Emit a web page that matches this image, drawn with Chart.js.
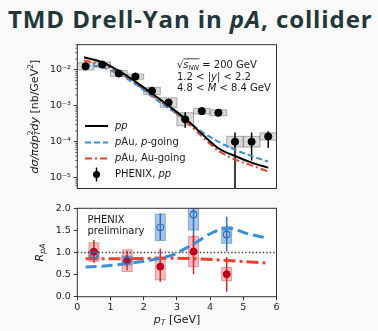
<!DOCTYPE html>
<html>
<head>
<meta charset="utf-8">
<script src="https://cdn.jsdelivr.net/npm/chart.js@4.4.1/dist/chart.umd.min.js"></script>
<style>
  body { margin: 0; background: #fafafa; width: 378px; height: 331px; overflow: hidden; position: relative; }
  #titulo { position: absolute; left: 8px; top: 2px; font: bold 24px "Open Sans"; color: #23373b; white-space: nowrap; letter-spacing: 0.9px; }
  canvas { position: absolute; left: 0; }
</style>
</head>
<body>
<div id="titulo">TMD Drell-Yan in <i>pA</i>, collider</div>
<canvas id="graficoSeccion" width="378" height="200" style="top:0"></canvas>
<canvas id="graficoRazon" width="378" height="136" style="top:195px"></canvas>
<script>
// ---- seccion eficaz pp (PHENIX) ----
const ptPP = [0.25, 0.75, 1.25, 1.75, 2.25, 2.75, 3.25, 3.75, 4.25, 4.75, 5.25, 5.75];
const seccionPP = [1.25e-2, 1.4e-2, 7.9e-3, 6.5e-3, 2.6e-3, 1.23e-3, 4.2e-4, 7.1e-4, 6.4e-4, 1.0e-4, 1.0e-4, 1.4e-4];
const estadPPBajo = [1.18e-2, 1.33e-2, 7.4e-3, 6.0e-3, 2.35e-3, 1.05e-3, 2.45e-4, 6.0e-4, 5.4e-4, 1e-6, 3.0e-5, 6.8e-5];
const estadPPAlto = [1.32e-2, 1.47e-2, 8.4e-3, 7.0e-3, 2.85e-3, 1.42e-3, 6.6e-4, 8.3e-4, 7.5e-4, 1.8e-4, 1.8e-4, 1.97e-4];
const sistPPBajo = [9.9e-3, 1.19e-2, 6.6e-3, 5.5e-3, 2.07e-3, 9.1e-4, 2.8e-4, 5.9e-4, 5.3e-4, 7.1e-5, 7.1e-5, 1.11e-4];
const sistPPAlto = [1.57e-2, 1.65e-2, 9.5e-3, 7.6e-3, 3.27e-3, 1.66e-3, 6.4e-4, 8.5e-4, 7.7e-4, 1.41e-4, 1.41e-4, 1.76e-4];

// ---- curvas teoricas (seccion eficaz) ----
const ptTeoria = [0.2, 0.75, 1.25, 1.75, 2.25, 2.75, 3.25, 3.75, 4.25, 4.75, 5.25, 5.75];
const teoriaPP = [2.24e-2, 1.62e-2, 9.3e-3, 4.7e-3, 2.19e-3, 1.0e-3, 4.4e-4, 1.66e-4, 6.6e-5, 4.0e-5, 2.63e-5, 1.9e-5];
const teoriaPAuP = [1.41e-2, 1.17e-2, 7.6e-3, 3.98e-3, 1.82e-3, 8.5e-4, 4.2e-4, 1.9e-4, 1.0e-4, 6.0e-5, 4.0e-5, 2.8e-5];
const teoriaPAuAu = [1.82e-2, 1.38e-2, 8.3e-3, 4.2e-3, 1.95e-3, 8.9e-4, 3.8e-4, 1.41e-4, 5.6e-5, 3.2e-5, 2.2e-5, 1.48e-5];

// ---- R_pA ----
const ptRazon = [0.5, 1.5, 2.5, 3.5, 4.5];
const razonP = [0.94, 0.82, 1.57, 1.86, 1.41];
const estadPBajo = [0.82, 0.70, 1.28, 1.09, 1.02];
const estadPAlto = [1.06, 0.94, 1.89, 2.30, 1.81];
const sistPBajo = [0.86, 0.72, 1.27, 1.51, 1.21];
const sistPAlto = [1.02, 0.92, 1.87, 2.21, 1.58];
const razonAu = [1.02, 0.82, 0.68, 1.02, 0.51];
const estadAuBajo = [0.77, 0.60, 0.34, 0.51, 0.11];
const estadAuAlto = [1.28, 1.04, 1.09, 1.40, 0.90];
const sistAuBajo = [0.80, 0.57, 0.38, 0.68, 0.36];
const sistAuAlto = [1.22, 1.06, 0.90, 1.36, 0.66];

const ptTeoriaP = [0.25, 0.75, 1.5, 2.0, 2.5, 2.9, 3.1, 3.5, 4.1, 4.6, 5.1, 5.75];
const razonTeoriaP = [0.67, 0.69, 0.75, 0.80, 0.87, 0.95, 1.03, 1.19, 1.46, 1.55, 1.43, 1.32];
const ptTeoriaAu = [0.25, 1.5, 2.5, 3.5, 4.5, 5.75];
const razonTeoriaAu = [0.86, 0.86, 0.87, 0.86, 0.82, 0.76];
const ptUnidad = [0, 6];
const razonUnidad = [1, 1];

const decadas = [1e-5, 1e-4, 1e-3, 1e-2];
const etiquetasDecadas = ["10⁻⁵", "10⁻⁴", "10⁻³", "10⁻²"];

const AZUL = "#3d8fd1";
const ROJO = "#ec412d";
const IZQ = 77.3, DER = 378 - 276.5;

Chart.defaults.font.family = '"DejaVu Sans"';
Chart.defaults.font.size = 9.5;
Chart.defaults.color = "#222";

function puntos(xs, ys) {
    return xs.map((x, i) => ({ x: x, y: ys[i] }));
}

// texto con cursiva, subindices y superindices
function fuente(p, tam) {
    const t = (p.sub || p.sup) ? tam * 0.7 : tam;
    return (p.i ? "italic " : "") + t + 'px "DejaVu Sans"';
}

function dibujarRico(ctx, partes, x, y, tam, alinear) {
    let ancho = 0;
    partes.forEach(p => {
        ctx.font = fuente(p, tam);
        if (!p.junto) ancho += ctx.measureText(p.t).width;
    });
    let cx = alinear === "center" ? x - ancho / 2 : (alinear === "right" ? x - ancho : x);
    ctx.textAlign = "left";
    ctx.textBaseline = "middle";
    ctx.fillStyle = "#1a1a1a";
    partes.forEach(p => {
        ctx.font = fuente(p, tam);
        const dy = p.sub ? tam * 0.3 : (p.sup ? -tam * 0.38 : 0);
        const w = ctx.measureText(p.t).width;
        ctx.fillText(p.t, cx, y + dy);
        if (p.raya) {
            ctx.strokeStyle = "#1a1a1a";
            ctx.lineWidth = 0.8;
            ctx.beginPath();
            ctx.moveTo(cx, y - tam * 0.62);
            ctx.lineTo(cx + w + 0.5, y - tam * 0.62);
            ctx.stroke();
        }
        if (!p.junto) cx += w;
    });
}

const fondoYMarco = {
    id: "fondoYMarco",
    beforeDraw(chart) {
        const { ctx, chartArea: a } = chart;
        ctx.save();
        ctx.fillStyle = "#ffffff";
        ctx.fillRect(a.left, a.top, a.width, a.height);
        ctx.restore();
    },
    afterDraw(chart) {
        const { ctx, chartArea: a } = chart;
        ctx.save();
        ctx.strokeStyle = "#333";
        ctx.lineWidth = 1;
        ctx.strokeRect(a.left, a.top, a.width, a.height);
        ctx.restore();
    }
};

// cajas sistematicas y barras estadisticas
const barrasError = {
    id: "barrasError",
    beforeDatasetsDraw(chart) {
        const { ctx, chartArea: a, scales: { x, y } } = chart;
        ctx.save();
        ctx.beginPath();
        ctx.rect(a.left, a.top, a.width, a.height);
        ctx.clip();
        chart.data.datasets.forEach(ds => {
            if (!ds.sistBajo) return;
            ds.data.forEach((p, i) => {
                const x0 = x.getPixelForValue(p.x - ds.medioAncho);
                const x1 = x.getPixelForValue(p.x + ds.medioAncho);
                const y0 = y.getPixelForValue(ds.sistAlto[i]);
                const y1 = y.getPixelForValue(ds.sistBajo[i]);
                ctx.fillStyle = ds.cajaRelleno;
                ctx.fillRect(x0, y0, x1 - x0, y1 - y0);
                ctx.strokeStyle = ds.cajaBorde;
                ctx.lineWidth = 1;
                ctx.strokeRect(x0, y0, x1 - x0, y1 - y0);
            });
        });
        chart.data.datasets.forEach(ds => {
            if (!ds.errBajo) return;
            ctx.strokeStyle = ds.errColor;
            ctx.lineWidth = 1.5;
            ds.data.forEach((p, i) => {
                const px = x.getPixelForValue(p.x);
                ctx.beginPath();
                ctx.moveTo(px, y.getPixelForValue(ds.errAlto[i]));
                ctx.lineTo(px, y.getPixelForValue(ds.errBajo[i]));
                ctx.stroke();
            });
        });
        ctx.restore();
    }
};

const marcasMenores = {
    id: "marcasMenores",
    afterDraw(chart) {
        const { ctx, chartArea: a, scales: { y } } = chart;
        ctx.save();
        ctx.strokeStyle = "#333";
        ctx.lineWidth = 0.8;
        for (let k = -6; k <= -2; k++) {
            for (let m = 2; m <= 9; m++) {
                const v = m * Math.pow(10, k);
                if (v < y.min || v > y.max) continue;
                const py = y.getPixelForValue(v);
                ctx.beginPath();
                ctx.moveTo(a.left - 2, py);
                ctx.lineTo(a.left, py);
                ctx.stroke();
            }
        }
        ctx.restore();
    }
};

const textosSeccion = {
    id: "textosSeccion",
    afterDraw(chart) {
        const ctx = chart.ctx;
        const ds = chart.data.datasets;
        ctx.save();
        // eje y
        ctx.translate(35, 116.6);
        ctx.rotate(-Math.PI / 2);
        dibujarRico(ctx, [
            { t: "dσ/πdp", i: 1 }, { t: "2", sup: 1, junto: 1 }, { t: "T", i: 1, sub: 1 },
            { t: "dy", i: 1 }, { t: " [nb/GeV" }, { t: "2", sup: 1 }, { t: "]" }
        ], 0, 0, 11, "center");
        ctx.restore();

        ctx.save();
        dibujarRico(ctx, [{ t: "√" }, { t: "s", i: 1, raya: 1 }, { t: "NN", i: 1, sub: 1, raya: 1 }, { t: " = 200 GeV" }], 177, 65, 10, "left");
        dibujarRico(ctx, [{ t: "1.2 < |" }, { t: "y", i: 1 }, { t: "| < 2.2" }], 177, 77, 10, "left");
        dibujarRico(ctx, [{ t: "4.8 < " }, { t: "M", i: 1 }, { t: " < 8.4 GeV" }], 177, 88.5, 10, "left");

        // leyenda
        const filas = [
            { ds: ds[1], y: 126, txt: [{ t: "pp", i: 1 }] },
            { ds: ds[2], y: 142.5, txt: [{ t: "p", i: 1 }, { t: "Au, " }, { t: "p", i: 1 }, { t: "-going" }] },
            { ds: ds[3], y: 158.5, txt: [{ t: "p", i: 1 }, { t: "Au, Au-going" }] },
            { ds: ds[0], y: 174.5, txt: [{ t: "PHENIX, " }, { t: "pp", i: 1 }] }
        ];
        filas.forEach(f => {
            if (f.ds.showLine === false) {
                ctx.strokeStyle = "#000";
                ctx.lineWidth = 1.5;
                ctx.beginPath();
                ctx.moveTo(96.5, f.y - 7);
                ctx.lineTo(96.5, f.y + 7);
                ctx.stroke();
                ctx.fillStyle = "#000";
                ctx.beginPath();
                ctx.arc(96.5, f.y, 3.5, 0, Math.PI * 2);
                ctx.fill();
            } else {
                ctx.strokeStyle = f.ds.borderColor;
                ctx.lineWidth = f.ds.borderWidth;
                ctx.setLineDash(f.ds.borderDash || []);
                ctx.beginPath();
                ctx.moveTo(85, f.y);
                ctx.lineTo(108, f.y);
                ctx.stroke();
                ctx.setLineDash([]);
            }
            dibujarRico(ctx, f.txt, 115, f.y, 10, "left");
        });
        ctx.restore();
    }
};

const textosRazon = {
    id: "textosRazon",
    afterDraw(chart) {
        const ctx = chart.ctx;
        ctx.save();
        dibujarRico(ctx, [{ t: "PHENIX" }], 87.5, 25, 10, "left");
        dibujarRico(ctx, [{ t: "preliminary" }], 87.5, 36.5, 10, "left");
        dibujarRico(ctx, [{ t: "p", i: 1 }, { t: "T", i: 1, sub: 1 }, { t: " [GeV]" }], 177, 125, 11, "center");
        ctx.translate(40, 57.5);
        ctx.rotate(-Math.PI / 2);
        dibujarRico(ctx, [{ t: "R", i: 1 }, { t: "pA", i: 1, sub: 1 }], 0, 0, 11, "center");
        ctx.restore();
    }
};

function inicializarGraficos() {
    new Chart(document.getElementById("graficoSeccion"), {
        type: "line",
        data: {
            datasets: [
                {
                    label: "PHENIX, pp",
                    data: puntos(ptPP, seccionPP),
                    showLine: false,
                    pointRadius: 3.6,
                    pointBackgroundColor: "#000",
                    pointBorderColor: "#000",
                    errBajo: estadPPBajo, errAlto: estadPPAlto, errColor: "#000",
                    sistBajo: sistPPBajo, sistAlto: sistPPAlto, medioAncho: 0.25,
                    cajaRelleno: "rgba(150,150,150,0.35)", cajaBorde: "rgba(110,110,110,0.55)"
                },
                {
                    label: "pp",
                    data: puntos(ptTeoria, teoriaPP),
                    borderColor: "#000",
                    borderWidth: 2,
                    pointRadius: 0,
                    cubicInterpolationMode: "monotone"
                },
                {
                    label: "pAu, p-going",
                    data: puntos(ptTeoria, teoriaPAuP),
                    borderColor: AZUL,
                    borderWidth: 2,
                    borderDash: [6, 3],
                    pointRadius: 0,
                    cubicInterpolationMode: "monotone"
                },
                {
                    label: "pAu, Au-going",
                    data: puntos(ptTeoria, teoriaPAuAu),
                    borderColor: ROJO,
                    borderWidth: 2,
                    borderDash: [7, 3, 2, 3],
                    pointRadius: 0,
                    cubicInterpolationMode: "monotone"
                }
            ]
        },
        options: {
            responsive: false,
            animation: false,
            devicePixelRatio: 1,
            layout: { padding: { top: 44.7, left: 0, right: DER, bottom: 11.5 } },
            plugins: { legend: { display: false }, tooltip: { enabled: false } },
            scales: {
                x: { type: "linear", min: 0, max: 6, display: false },
                y: {
                    type: "logarithmic",
                    min: 5e-6,
                    max: 5e-2,
                    afterFit: scale => { scale.width = IZQ; },
                    afterBuildTicks: scale => { scale.ticks = decadas.map(v => ({ value: v })); },
                    border: { display: false },
                    grid: { drawOnChartArea: false, drawTicks: true, tickLength: 3.5, tickColor: "#333" },
                    ticks: { autoSkip: false, padding: 3, callback: (v, i) => etiquetasDecadas[i] }
                }
            }
        },
        plugins: [fondoYMarco, barrasError, marcasMenores, textosSeccion]
    });

    new Chart(document.getElementById("graficoRazon"), {
        type: "line",
        data: {
            datasets: [
                {
                    label: "p-going",
                    data: puntos(ptRazon, razonP),
                    showLine: false,
                    pointRadius: 3.3,
                    pointBorderWidth: 1.2,
                    pointBackgroundColor: "rgba(0,0,0,0)",
                    pointBorderColor: "#2a72c0",
                    errBajo: estadPBajo, errAlto: estadPAlto, errColor: "#2a72c0",
                    sistBajo: sistPBajo, sistAlto: sistPAlto, medioAncho: 0.15,
                    cajaRelleno: "rgba(70,130,200,0.45)", cajaBorde: "rgba(70,130,200,0.6)"
                },
                {
                    label: "Au-going",
                    data: puntos(ptRazon, razonAu),
                    showLine: false,
                    pointRadius: 3.5,
                    pointBackgroundColor: "#c0001a",
                    pointBorderColor: "#c0001a",
                    errBajo: estadAuBajo, errAlto: estadAuAlto, errColor: "#d42a2a",
                    sistBajo: sistAuBajo, sistAlto: sistAuAlto, medioAncho: 0.15,
                    cajaRelleno: "rgba(214,60,70,0.33)", cajaBorde: "rgba(214,60,70,0.45)"
                },
                {
                    label: "teoria p-going",
                    data: puntos(ptTeoriaP, razonTeoriaP),
                    borderColor: AZUL,
                    borderWidth: 3,
                    borderDash: [11, 5],
                    pointRadius: 0,
                    cubicInterpolationMode: "monotone"
                },
                {
                    label: "teoria Au-going",
                    data: puntos(ptTeoriaAu, razonTeoriaAu),
                    borderColor: ROJO,
                    borderWidth: 3,
                    borderDash: [12, 4, 3, 4],
                    pointRadius: 0,
                    cubicInterpolationMode: "monotone"
                },
                {
                    label: "unidad",
                    data: puntos(ptUnidad, razonUnidad),
                    borderColor: "#333",
                    borderWidth: 1.3,
                    borderDash: [1.3, 2.2],
                    pointRadius: 0
                }
            ]
        },
        options: {
            responsive: false,
            animation: false,
            devicePixelRatio: 1,
            layout: { padding: { top: 13.3, left: 0, right: DER, bottom: 0 } },
            plugins: { legend: { display: false }, tooltip: { enabled: false } },
            scales: {
                x: {
                    type: "linear", min: 0, max: 6,
                    afterFit: scale => { scale.height = 34.3; },
                    border: { display: false },
                    grid: { drawOnChartArea: false, drawTicks: true, tickLength: 3.5, tickColor: "#333" },
                    ticks: { stepSize: 1, padding: 2, callback: v => v }
                },
                y: {
                    min: 0, max: 2,
                    afterFit: scale => { scale.width = IZQ; },
                    border: { display: false },
                    grid: { drawOnChartArea: false, drawTicks: true, tickLength: 3.5, tickColor: "#333" },
                    ticks: { stepSize: 0.5, padding: 3, callback: v => v.toFixed(1) }
                }
            }
        },
        plugins: [fondoYMarco, barrasError, textosRazon]
    });
}

inicializarGraficos();
</script>
</body>
</html>
